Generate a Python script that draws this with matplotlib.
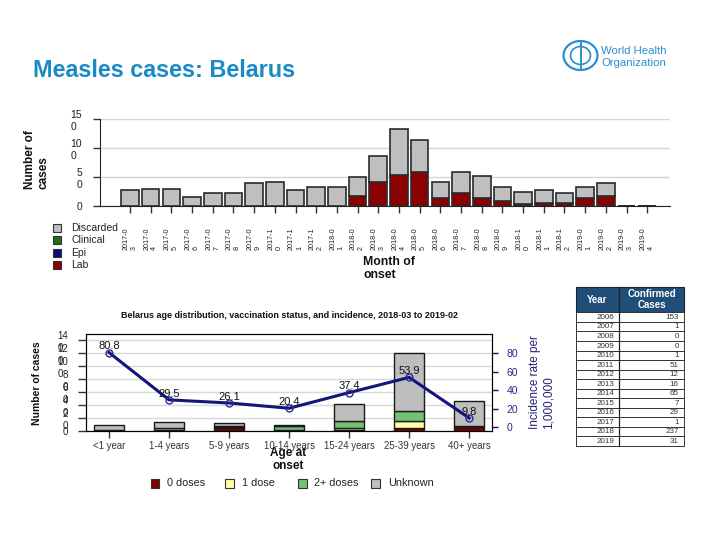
import matplotlib
matplotlib.use('Agg')
import matplotlib.pyplot as plt
from matplotlib.patches import Rectangle, Ellipse
import numpy as np

plt.rcParams['font.family'] = ['Liberation Sans', 'DejaVu Sans']

# ---------------- data ----------------
months = ['2017-03', '2017-04', '2017-05', '2017-06', '2017-07', '2017-08', '2017-09',
          '2017-10', '2017-11', '2017-12', '2018-01', '2018-02', '2018-03', '2018-04',
          '2018-05', '2018-06', '2018-07', '2018-08', '2018-09', '2018-10', '2018-11',
          '2018-12', '2019-01', '2019-02', '2019-03', '2019-04']
lab = [0, 0, 0, 0, 0, 0, 0, 0, 0, 0, 0, 18, 41, 53, 59, 14, 23, 13, 8, 3, 6, 5, 14, 18, 0, 0]
epi = [0] * 26
clinical = [0] * 26
discarded = [28, 30, 29, 15, 23, 22, 39, 41, 28, 32, 33, 32, 46, 79, 54, 27, 35, 38, 25, 22,
             22, 18, 19, 22, 0, 0]
top_yticks = [0, 50, 100, 150]
top_legend = ['Discarded', 'Clinical', 'Epi', 'Lab']

age_groups = ['<1 year', '1-4 years', '5-9 years', '10-14 years', '15-24 years',
              '25-39 years', '40+ years']
dose0 = [1, 1, 5, 1, 1, 4, 6]
dose1 = [0, 3, 1, 0, 3, 11, 0]
dose2 = [0, 0, 1, 6, 12, 16, 1]
unknown = [8, 10, 6, 2, 25, 89, 39]
incidence = [80.8, 29.5, 26.1, 20.4, 37.4, 53.9, 9.8]
bottom_legend = ['0 doses', '1 dose', '2+ doses', 'Unknown']
left_yticks = [0, 20, 40, 60, 80, 100, 120, 140]
right_yticks = [0, 20, 40, 60, 80]

table_years = ['2006', '2007', '2008', '2009', '2010', '2011', '2012', '2013', '2014',
               '2015', '2016', '2017', '2018', '2019']
table_cases = [153, 1, 0, 0, 1, 51, 12, 16, 65, 7, 29, 1, 237, 31]

# ---------------- style ----------------
DISC_C, CLIN_C, EPI_C, LAB_C = '#bfbfbf', '#1b6e1b', '#0c0c7a', '#8b0000'
D0_C, D1_C, D2_C, UNK_C = '#800000', '#ffffa8', '#72c174', '#bebebe'
NAVY = '#14147a'
WHO_BLUE = '#1a8ac6'

W, H = 720, 540
fig = plt.figure(figsize=(7.2, 5.4), dpi=100)


def fx(x):
    return x / W


def fy(y):
    return 1 - y / H


def wrap(v):
    s = str(v)
    return s if len(s) < 2 else s[:-1] + '\n' + s[-1]


# ---------------- top chart ----------------
ax1 = fig.add_axes([fx(100), fy(206), fx(670) - fx(100), fy(119) - fy(206)])
x = np.arange(len(months))
base = np.zeros(len(months))
for vals, col in [(lab, LAB_C), (epi, EPI_C), (clinical, CLIN_C), (discarded, DISC_C)]:
    vals = np.array(vals, dtype=float)
    ax1.bar(x, vals, 0.85, bottom=base, color=col, edgecolor='#2a2a2a', linewidth=1.2, zorder=3)
    base += vals
ax1.set_xlim(-1.45, 26.1)
ax1.set_ylim(0, 150)
ax1.set_yticks(top_yticks)
ax1.set_yticklabels([wrap(v) for v in top_yticks], fontsize=7.5, color='#222222')
ax1.set_xticks(x)
ax1.set_xticklabels([m[:6] + '\n' + m[6:] for m in months], rotation=90, fontsize=5.2,
                    color='#222222')
for lbl in ax1.get_xticklabels() + ax1.get_yticklabels():
    lbl.set_multialignment('left')
ax1.yaxis.grid(True, color='#d4d4d4', linewidth=1)
ax1.set_axisbelow(True)
for s in ['top', 'right']:
    ax1.spines[s].set_visible(False)
for s in ['left', 'bottom']:
    ax1.spines[s].set_color('#222222')
ax1.tick_params(axis='x', length=5, width=1, pad=10.5, color='#333333')
ax1.tick_params(axis='y', length=5, width=1, pad=8, color='#333333')

# ---------------- bottom chart ----------------
ax2 = fig.add_axes([fx(85.7), fy(431), fx(492) - fx(85.7), fy(334) - fy(431)])
xa = np.arange(len(age_groups))
base = np.zeros(len(age_groups))
for vals, col in [(dose0, D0_C), (dose1, D1_C), (dose2, D2_C), (unknown, UNK_C)]:
    vals = np.array(vals, dtype=float)
    ax2.bar(xa, vals, 0.5, bottom=base, color=col, edgecolor='#1a1a1a', linewidth=1, zorder=3)
    base += vals
ax2.set_xlim(-0.39, 6.38)
ax2.set_ylim(0, 150)
ax2.set_yticks(left_yticks)
ax2.set_yticklabels([wrap(v) for v in left_yticks], fontsize=7, color='#222222')
for lbl in ax2.get_yticklabels():
    lbl.set_multialignment('left')
ax2.set_xticks(xa)
ax2.set_xticklabels(age_groups, fontsize=6.9, color='#333333')
ax2.yaxis.grid(True, color='#d8d8d8', linewidth=1)
ax2.set_axisbelow(True)
ax2.tick_params(axis='x', length=5, width=1, pad=2.2, color='#333333')
ax2.tick_params(axis='y', length=5.8, width=1, pad=7, color='#333333')
for s in ax2.spines.values():
    s.set_color('#111111')

ax3 = ax2.twinx()
ax3.set_ylim(-4.3, 101)
ax3.set_yticks(right_yticks)
ax3.set_yticklabels([str(v) for v in right_yticks], fontsize=7.5, color='#2a2a8a')
ax3.tick_params(axis='y', length=4.3, width=1, pad=6, color=NAVY)
ax3.plot(xa, incidence, color=NAVY, linewidth=2.2, marker='o', markersize=5,
         markerfacecolor='none', markeredgecolor='#2a2a9a', markeredgewidth=1, zorder=5)
for xi, v in zip(xa, incidence):
    ax3.annotate(f'{v:.1f}', (xi, v), xytext=(0, 4.5), textcoords='offset points',
                 ha='center', va='center', fontsize=8, color='#111111', zorder=6)

# ---------------- overlay (texts, legends, table, logo) ----------------
ov = fig.add_axes([0, 0, 1, 1], zorder=10)
ov.set_xlim(0, W)
ov.set_ylim(H, 0)
ov.axis('off')
ov.patch.set_visible(False)

ov.text(33, 70.7, 'Measles cases: Belarus', fontsize=16.8, fontweight='bold',
        color=WHO_BLUE, ha='left', va='center')

# WHO logo
ov.add_patch(Ellipse((580.5, 55.5), 34, 29, fill=False, edgecolor='#2a8fcf', linewidth=1.6))
ov.add_patch(Ellipse((580.5, 55.5), 20, 18, fill=False, edgecolor='#2a8fcf', linewidth=1.2))
ov.plot([580.5, 580.5], [42.5, 68.5], color='#2a8fcf', linewidth=1.4)
ov.text(601, 50.7, 'World Health', fontsize=8.2, color='#2a8fcf', ha='left', va='center')
ov.text(601, 63.3, 'Organization', fontsize=8.2, color='#2a8fcf', ha='left', va='center')

# top chart labels
ov.text(36.5, 159.5, 'Number of\ncases', rotation=90, ha='center', va='center',
        multialignment='left', fontsize=8.5, fontweight='bold', color='#111111')
ov.text(363, 256, 'Month of\nonset', ha='left', va='top', fontsize=8.8,
        fontweight='bold', color='#111111', linespacing=1.15)
top_colors = [DISC_C, CLIN_C, EPI_C, LAB_C]
for i, (lbl, col) in enumerate(zip(top_legend, top_colors)):
    yc = 227.7 + i * 12.5
    ov.add_patch(Rectangle((52.7, yc - 4), 8, 8, facecolor=col, edgecolor='#333333',
                           linewidth=0.8))
    ov.text(71, yc, lbl, fontsize=7.5, color='#222222', ha='left', va='center')

# bottom chart labels
ov.text(289.4, 315.7,
        'Belarus age distribution, vaccination status, and incidence, 2018-03 to 2019-02',
        ha='center', va='center', fontsize=6.5, fontweight='bold', color='#111111')
ov.text(37, 383, 'Number of cases', rotation=90, ha='center', va='center',
        fontsize=7.5, fontweight='bold', color='#111111')
ov.text(542, 382.5, 'Incidence rate per\n1,000,000', rotation=90, ha='center', va='center',
        multialignment='left', fontsize=8.5, color='#22227a')
ov.text(288, 459.5, 'Age at\nonset', ha='center', va='center', fontsize=8.5,
        fontweight='bold', color='#111111', linespacing=1.15)
bottom_colors = [D0_C, D1_C, D2_C, UNK_C]
text_x = [167.3, 241.7, 314.5, 387.7]
for lbl, col, tx in zip(bottom_legend, bottom_colors, text_x):
    ov.add_patch(Rectangle((tx - 16.5, 479), 8.5, 8.5, facecolor=col, edgecolor='#333333',
                           linewidth=0.8))
    ov.text(tx, 483.3, lbl, fontsize=7.8, color='#222222', ha='left', va='center')

# table
tl, tm, tr = 575.7, 619.3, 684.3
th_top, th_bot, t_bot = 287.3, 312.3, 446
row_h = (t_bot - th_bot) / len(table_years)
ov.add_patch(Rectangle((tl, th_top), tr - tl, th_bot - th_top, facecolor='#1f4e79',
                       edgecolor='#222222', linewidth=0.8))
ov.plot([tm, tm], [th_top, t_bot], color='#222222', linewidth=0.8)
ov.text((tl + tm) / 2, (th_top + th_bot) / 2, 'Year', color='white', fontweight='bold',
        fontsize=6.9, ha='center', va='center')
ov.text((tm + tr) / 2, (th_top + th_bot) / 2, 'Confirmed\nCases', color='white',
        fontweight='bold', fontsize=7, ha='center', va='center', linespacing=1.1)
for i, (yr, cs) in enumerate(zip(table_years, table_cases)):
    y0 = th_bot + i * row_h
    ov.add_patch(Rectangle((tl, y0), tr - tl, row_h, facecolor='white', edgecolor='#333333',
                           linewidth=0.7))
    ov.text(tm - 5, y0 + row_h / 2 + 0.3, yr, fontsize=5.8, color='#333333', ha='right',
            va='center')
    ov.text(tr - 5.5, y0 + row_h / 2 + 0.3, str(cs), fontsize=5.8, color='#333333',
            ha='right', va='center')
ov.plot([tm, tm], [th_top, t_bot], color='#222222', linewidth=0.8)

fig.savefig('out.png', dpi=100)
